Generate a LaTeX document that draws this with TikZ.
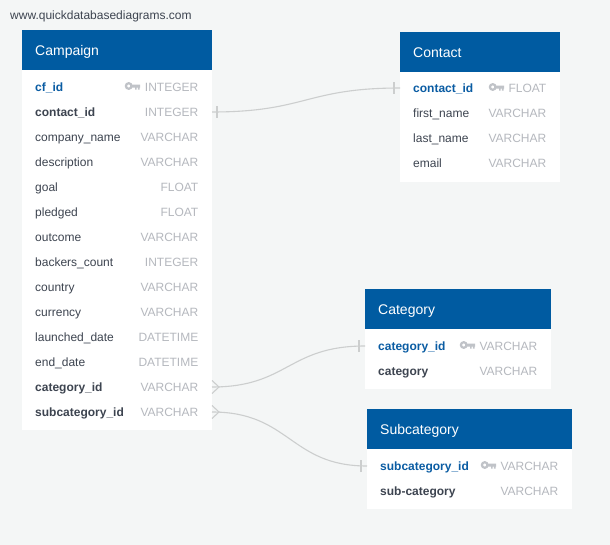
\documentclass[tikz,border=0pt]{standalone}
\usepackage{fontspec}
\setmainfont{Liberation Sans}
\definecolor{mybg}{RGB}{244,246,246}
\definecolor{myhead}{RGB}{0,91,161}
\definecolor{myblue}{RGB}{10,92,163}
\definecolor{mydark}{RGB}{61,68,80}
\definecolor{mygrey}{RGB}{181,184,190}
\definecolor{myline}{RGB}{204,206,206}
\usetikzlibrary{positioning}
\begin{document}
\begin{tikzpicture}[
  x=1pt,
  y=-1pt,
  tablehead/.style={fill=myhead, text=white, font=\fontsize{14}{14}\selectfont, anchor=north west, minimum height=40pt, text depth=0pt, inner sep=0pt, inner xsep=13pt, align=left},
  tablebody/.style={fill=white, anchor=north west, inner sep=0pt},
  rowname/.style={anchor=west, inner ysep=0pt, inner xsep=13pt, text height=11.3pt, text depth=2.7pt, font=\fontsize{12}{12}\selectfont},
  rowtype/.style={anchor=east, inner ysep=0pt, inner xsep=13.5pt, text height=11.3pt, text depth=2.7pt, text=mygrey, font=\fontsize{12}{12}\selectfont},
  pkrow/.style={rowname, text=myblue, font=\fontsize{12}{12}\selectfont\bfseries},
  fkrow/.style={rowname, text=mydark, font=\fontsize{12}{12}\selectfont\bfseries},
  plainrow/.style={rowname, text=mydark},
  relline/.style={draw=myline, line width=1.1pt},
  keyicon/.pic={
    \draw[mygrey!85, line width=2.2pt] (3.7,-1) circle[radius=2.8];
    \fill[mygrey!85] (6,-2.4) rectangle (15,0.7) (10,0.5) rectangle (11.6,2.6) (12.8,0.5) rectangle (14.6,2.6);
  }
]

\fill[mybg] (0,0) rectangle (610,545);

\node[text=mydark, anchor=west, inner sep=0pt, font=\fontsize{12}{12}\selectfont] (site) at (10,16) {www.quickdatabasediagrams.com};

% Campaign
\node[tablebody, minimum width=190pt, minimum height=360pt] (campaign) at (22,70) {};
\node[tablehead, minimum width=190pt, text width=164pt] (campaignhead) at (22,30) {Campaign};
\foreach \Style/\Name/\Type [count=\Rowi from 1] in {
  pkrow/cf\_id/INTEGER,
  fkrow/contact\_id/INTEGER,
  plainrow/company\_name/VARCHAR,
  plainrow/description/VARCHAR,
  plainrow/goal/FLOAT,
  plainrow/pledged/FLOAT,
  plainrow/outcome/VARCHAR,
  plainrow/backers\_count/INTEGER,
  plainrow/country/VARCHAR,
  plainrow/currency/VARCHAR,
  plainrow/launched\_date/DATETIME,
  plainrow/end\_date/DATETIME,
  fkrow/category\_id/VARCHAR,
  fkrow/subcategory\_id/VARCHAR}
{
  \node[\Style] (campaignname\Rowi) at (22,62+25*\Rowi) {\Name};
  \node[rowtype] (campaigntype\Rowi) at (212,62+25*\Rowi) {\Type};
}
\pic at (125,87) {keyicon};

% Contact
\node[tablebody, minimum width=160pt, minimum height=110pt] (contact) at (400,72) {};
\node[tablehead, minimum width=160pt, text width=134pt] (contacthead) at (400,32) {Contact};
\foreach \Style/\Name/\Type [count=\Rowi from 1] in {
  pkrow/contact\_id/FLOAT,
  plainrow/first\_name/VARCHAR,
  plainrow/last\_name/VARCHAR,
  plainrow/email/VARCHAR}
{
  \node[\Style] (contactname\Rowi) at (400,63+25*\Rowi) {\Name};
  \node[rowtype] (contacttype\Rowi) at (560,63+25*\Rowi) {\Type};
}
\pic at (489,88) {keyicon};

% Category
\node[tablebody, minimum width=186pt, minimum height=60pt] (category) at (365,329) {};
\node[tablehead, minimum width=186pt, text width=160pt] (categoryhead) at (365,289) {Category};
\foreach \Style/\Name/\Type [count=\Rowi from 1] in {
  pkrow/category\_id/VARCHAR,
  fkrow/category/VARCHAR}
{
  \node[\Style] (categoryname\Rowi) at (365,321+25*\Rowi) {\Name};
  \node[rowtype] (categorytype\Rowi) at (551,321+25*\Rowi) {\Type};
}
\pic at (460,346) {keyicon};

% Subcategory
\node[tablebody, minimum width=205pt, minimum height=60pt] (subcategory) at (367,449) {};
\node[tablehead, minimum width=205pt, text width=179pt] (subcategoryhead) at (367,409) {Subcategory};
\foreach \Style/\Name/\Type [count=\Rowi from 1] in {
  pkrow/subcategory\_id/VARCHAR,
  fkrow/sub-category/VARCHAR}
{
  \node[\Style] (subcategoryname\Rowi) at (367,441+25*\Rowi) {\Name};
  \node[rowtype] (subcategorytype\Rowi) at (572,441+25*\Rowi) {\Type};
}
\pic at (481,466) {keyicon};

% relations
\draw[relline] (campaigntype2.east) .. controls (306,112) and (306,88) .. (contactname1.west);
\draw[relline] ([xshift=5pt,yshift=-6pt]campaigntype2.east) -- ([xshift=5pt,yshift=6pt]campaigntype2.east);
\draw[relline] ([xshift=-6pt,yshift=-6pt]contactname1.west) -- ([xshift=-6pt,yshift=6pt]contactname1.west);

\draw[relline] (campaigntype13.east) .. controls (288,387) and (288,346) .. (categoryname1.west);
\draw[relline] ([yshift=-6.5pt]campaigntype13.east) -- ([xshift=7pt]campaigntype13.east) -- ([yshift=6.5pt]campaigntype13.east);
\draw[relline] ([xshift=-6pt,yshift=-6pt]categoryname1.west) -- ([xshift=-6pt,yshift=6pt]categoryname1.west);

\draw[relline] (campaigntype14.east) .. controls (290,412) and (290,466) .. (subcategoryname1.west);
\draw[relline] ([yshift=-6.5pt]campaigntype14.east) -- ([xshift=7pt]campaigntype14.east) -- ([yshift=6.5pt]campaigntype14.east);
\draw[relline] ([xshift=-6pt,yshift=-6pt]subcategoryname1.west) -- ([xshift=-6pt,yshift=6pt]subcategoryname1.west);

\end{tikzpicture}
\end{document}
